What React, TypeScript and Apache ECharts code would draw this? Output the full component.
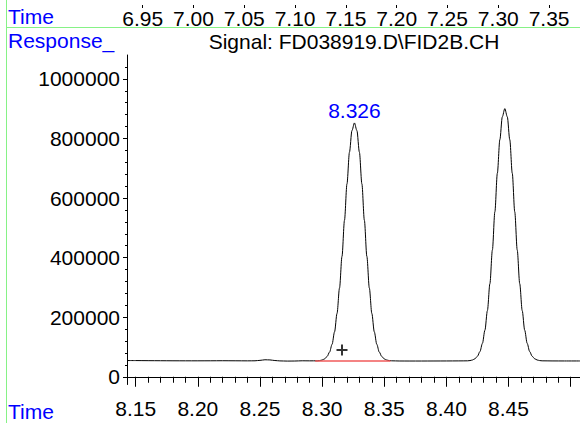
import React, { useEffect, useRef } from "react";
import * as echarts from "echarts";

const FONT = '"Liberation Sans", Arial, Helvetica, sans-serif';
const FS = 21;

// Signal trace (time in min, response in counts)
const signalTime = [
  8.143, 8.15, 8.16, 8.17, 8.18, 8.19, 8.2, 8.21, 8.22, 8.23, 8.24, 8.246, 8.25, 8.254, 8.258, 8.262, 8.266, 8.272,
  8.278, 8.284, 8.29,
  8.296, 8.298, 8.3, 8.302, 8.304, 8.306, 8.308, 8.31, 8.312, 8.314, 8.316, 8.318, 8.32, 8.322, 8.324, 8.326,
  8.328, 8.33, 8.332, 8.334, 8.336, 8.338, 8.34, 8.342, 8.344, 8.346, 8.348, 8.35, 8.352, 8.354, 8.356,
  8.362, 8.37, 8.38, 8.39, 8.4, 8.41,
  8.417, 8.419, 8.421, 8.423, 8.425, 8.427, 8.429, 8.431, 8.433, 8.435, 8.437, 8.439, 8.441, 8.443, 8.445, 8.447,
  8.449, 8.451, 8.453, 8.455, 8.457, 8.459, 8.461, 8.463, 8.465, 8.467, 8.469, 8.471, 8.473, 8.475, 8.477,
  8.485, 8.495, 8.5075,
];
const signalResponse = [
  54500, 54300, 54000, 53800, 53600, 53500, 53500, 53600, 53800, 53600, 53400, 53600, 55000, 57000, 56500, 54500,
  53200, 52600, 52800, 53600, 53400,
  53500, 54300, 56100, 60000, 68000, 82900, 108800, 150500, 212600, 297700, 404200, 525200, 647400, 753600, 826200,
  852000, 826200, 753600, 647400, 525200, 404200, 297700, 212600, 150500, 108800, 82900, 68000, 60000, 56100, 54300,
  53500,
  52900, 52800, 52800, 52900, 53000, 53200,
  53500, 54300, 56300, 60500, 68900, 84700, 112100, 156300, 222100, 312400, 425300, 553600, 683100, 795600, 872600,
  900000, 872600, 795600, 683100, 553600, 425300, 312400, 222100, 156300, 112100, 84700, 68900, 60500, 56300, 54300,
  53500,
  53100, 53000, 53000,
];

// Integration baseline of the labelled peak
const baselineTime = [8.2944, 8.355];
const baselineResponse = [52500, 52500];

// Labelled peak (retention time) and the "+" marker
const peakLabel = "8.326";
const peakTime = 8.326;
const peakResponse = 852000;
const markerTime = 8.316;
const markerResponse = 89700;

// Axes
const xMin = 8.143;
const xMax = 8.5075;
const xMajorTicks = [8.15, 8.2, 8.25, 8.3, 8.35, 8.4, 8.45, 8.5];
const xLabelValues = [8.15, 8.2, 8.25, 8.3, 8.35, 8.4, 8.45];
const xMinorTicks = [
  8.16, 8.17, 8.18, 8.19, 8.21, 8.22, 8.23, 8.24, 8.26, 8.27, 8.28, 8.29, 8.31, 8.32, 8.33, 8.34, 8.36, 8.37, 8.38,
  8.39, 8.41, 8.42, 8.43, 8.44, 8.46, 8.47, 8.48, 8.49,
];
const yMin = -26000;
const yMax = 1080000;
const yMajorTicks = [0, 200000, 400000, 600000, 800000, 1000000];
const yMinorTicks = [
  40000, 80000, 120000, 160000, 240000, 280000, 320000, 360000, 440000, 480000, 520000, 560000, 640000, 680000,
  720000, 760000, 840000, 880000, 920000, 960000, 1040000,
];
const topMin = 6.93455;
const topMax = 7.3804;
const topTicks = [6.95, 7.0, 7.05, 7.1, 7.15, 7.2, 7.25, 7.3, 7.35];

const title = "Signal: FD038919.D\\FID2B.CH";

const plusPath = "path://M4.5,0H6.5V4.5H11V6.5H6.5V11H4.5V6.5H0V4.5H4.5Z";

export default function App() {
  const ref = useRef<HTMLDivElement>(null);
  useEffect(() => {
    const chart = echarts.init(ref.current!, null, { renderer: "svg", width: 580, height: 423 });
    const labelStyle = { fontSize: FS, fontFamily: FONT, color: "#000" };
    const option: any = {
      animation: false,
      backgroundColor: "#ffffff",
      grid: [
        { left: 127, right: 0, top: 55, height: 329.5 },
        { left: 127, right: 0, top: -20, height: 20 },
      ],
      xAxis: [
        {
          type: "value",
          gridIndex: 0,
          min: xMin,
          max: xMax,
          position: "bottom",
          axisLine: { show: true, lineStyle: { color: "#000", width: 1 } },
          axisTick: { show: true, customValues: xMajorTicks, length: 10, lineStyle: { color: "#000", width: 1 } },
          axisLabel: {
            ...labelStyle,
            customValues: xLabelValues,
            margin: 13,
            formatter: (v: number) => v.toFixed(2),
          },
          splitLine: { show: false },
        },
        {
          type: "value",
          gridIndex: 0,
          min: xMin,
          max: xMax,
          position: "bottom",
          axisLine: { show: false },
          axisTick: { show: true, customValues: xMinorTicks, length: 6, lineStyle: { color: "#000", width: 1 } },
          axisLabel: { show: false },
          splitLine: { show: false },
        },
        {
          type: "value",
          gridIndex: 1,
          min: topMin,
          max: topMax,
          position: "bottom",
          axisLine: { show: false },
          axisTick: { show: true, customValues: topTicks, length: 3, lineStyle: { color: "#000", width: 1 } },
          axisLabel: {
            ...labelStyle,
            customValues: topTicks,
            margin: 3,
            formatter: (v: number) => v.toFixed(2),
          },
          splitLine: { show: false },
        },
      ],
      yAxis: [
        {
          type: "value",
          gridIndex: 0,
          min: yMin,
          max: yMax,
          position: "left",
          axisLine: { show: true, lineStyle: { color: "#000", width: 1 } },
          axisTick: { show: true, customValues: yMajorTicks, length: 4, lineStyle: { color: "#000", width: 1 } },
          axisLabel: { ...labelStyle, customValues: yMajorTicks, margin: 7, formatter: (v: number) => String(v) },
          splitLine: { show: false },
        },
        {
          type: "value",
          gridIndex: 0,
          min: yMin,
          max: yMax,
          position: "left",
          axisLine: { show: false },
          axisTick: { show: true, customValues: yMinorTicks, length: 2, lineStyle: { color: "#000", width: 1 } },
          axisLabel: { show: false },
          splitLine: { show: false },
        },
        { type: "value", gridIndex: 1, min: 0, max: 1, show: false },
      ],
      series: [
        {
          type: "line",
          name: "Signal",
          xAxisIndex: 0,
          yAxisIndex: 0,
          data: signalTime.map((t, i) => [t, signalResponse[i]]),
          showSymbol: false,
          smooth: 0.3,
          smoothMonotone: "x",
          lineStyle: { color: "#000", width: 1 },
          z: 2,
          markPoint: {
            symbol: "circle",
            symbolSize: 1,
            itemStyle: { color: "rgba(0,0,0,0)" },
            label: {
              show: true,
              position: "top",
              distance: 1,
              formatter: peakLabel,
              color: "#0000ff",
              fontSize: FS,
              fontFamily: FONT,
            },
            data: [{ coord: [peakTime, peakResponse] }],
          },
        },
        {
          type: "line",
          name: "Baseline",
          xAxisIndex: 0,
          yAxisIndex: 0,
          data: baselineTime.map((t, i) => [t, baselineResponse[i]]),
          showSymbol: false,
          lineStyle: { color: "#f05a5a", width: 1.5 },
          z: 3,
        },
        {
          type: "scatter",
          name: "Marker",
          xAxisIndex: 0,
          yAxisIndex: 0,
          data: [[markerTime, markerResponse]],
          symbol: plusPath,
          symbolSize: 11,
          itemStyle: { color: "#000" },
          z: 4,
        },
      ],
      graphic: [
        { type: "line", silent: true, shape: { x1: 6.5, y1: 0, x2: 6.5, y2: 423 }, style: { stroke: "#86f286", lineWidth: 1 } },
        { type: "line", silent: true, shape: { x1: 6.5, y1: 27.5, x2: 580, y2: 27.5 }, style: { stroke: "#86f286", lineWidth: 1 } },
        {
          type: "text",
          x: 8,
          y: 16.5,
          style: { text: "Time", fill: "#0000ff", fontSize: FS, fontFamily: FONT, verticalAlign: "middle", align: "left" },
        },
        {
          type: "text",
          x: 8,
          y: 40.3,
          style: { text: "Response_", fill: "#0000ff", fontSize: FS, fontFamily: FONT, verticalAlign: "middle", align: "left" },
        },
        {
          type: "text",
          x: 8,
          y: 411.3,
          style: { text: "Time", fill: "#0000ff", fontSize: FS, fontFamily: FONT, verticalAlign: "middle", align: "left" },
        },
        {
          type: "text",
          x: 354,
          y: 41.5,
          style: { text: title, fill: "#000", fontSize: FS, fontFamily: FONT, verticalAlign: "middle", align: "center" },
        },
      ],
    };
    chart.setOption(option);
    return () => chart.dispose();
  }, []);
  return (
    <div
      ref={ref}
      style={{ position: "fixed", left: 0, top: 0, width: 580, height: 423, background: "#fff" }}
    />
  );
}
